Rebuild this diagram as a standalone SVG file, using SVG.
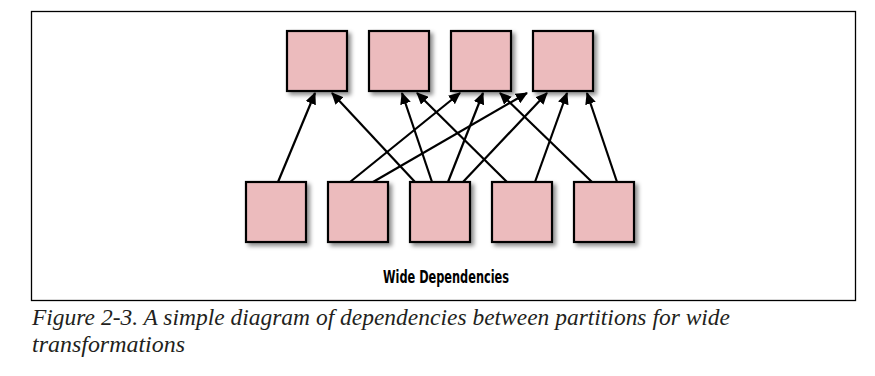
<svg xmlns="http://www.w3.org/2000/svg" width="875" height="376" viewBox="0 0 875 376">
  <style>
    .part { fill: #ecbbbd; stroke: #000; stroke-width: 2.2; filter: url(#shadow); }
    .dep { stroke: #000; stroke-width: 2.2; fill: none; marker-end: url(#arrow); }
    .title { font-family: "Liberation Sans Narrow", "DejaVu Sans Condensed", "Liberation Sans", sans-serif; font-weight: bold; font-size: 18px; fill: #000; }
    .caption { font-family: "Liberation Serif", "Times New Roman", serif; font-style: italic; font-size: 23px; fill: #231f20; }
  </style>
  <defs>
    <filter id="shadow" x="-20%" y="-20%" width="150%" height="150%">
      <feDropShadow dx="3" dy="3" stdDeviation="2" flood-color="#000" flood-opacity="0.45"/>
    </filter>
    <marker id="arrow" viewBox="0 0 12 11" refX="11" refY="5.5" markerWidth="12" markerHeight="11" markerUnits="userSpaceOnUse" orient="auto">
      <path d="M0,0 L12,5.5 L0,11 Z" fill="#000"/>
    </marker>
  </defs>

  <rect x="31.5" y="11.5" width="824" height="289" fill="#fff" stroke="#000" stroke-width="1.3"/>

  <!-- dependency edges: child partition (bottom) to parent partition (top) -->
  <g id="connectors">
    <line class="dep" x1="278" y1="182" x2="315" y2="93"/>
    <line class="dep" x1="415" y1="182" x2="332" y2="93"/>
    <line class="dep" x1="432" y1="182" x2="402" y2="93"/>
    <line class="dep" x1="507" y1="182" x2="417" y2="93"/>
    <line class="dep" x1="350" y1="182" x2="460" y2="93"/>
    <line class="dep" x1="448" y1="182" x2="483" y2="93"/>
    <line class="dep" x1="592" y1="182" x2="500" y2="93"/>
    <line class="dep" x1="373" y1="182" x2="527" y2="93"/>
    <line class="dep" x1="463" y1="182" x2="547" y2="93"/>
    <line class="dep" x1="535" y1="182" x2="567" y2="93"/>
    <line class="dep" x1="617" y1="182" x2="587" y2="93"/>
  </g>

  <!-- parent partitions -->
  <g id="parent1"><rect class="part" x="287" y="31" width="60" height="60"/></g>
  <g id="parent2"><rect class="part" x="369" y="31" width="60" height="60"/></g>
  <g id="parent3"><rect class="part" x="451" y="31" width="60" height="60"/></g>
  <g id="parent4"><rect class="part" x="533" y="31" width="60" height="60"/></g>

  <!-- child partitions -->
  <g id="child1"><rect class="part" x="246" y="182" width="60" height="60"/></g>
  <g id="child2"><rect class="part" x="328" y="182" width="60" height="60"/></g>
  <g id="child3"><rect class="part" x="410" y="182" width="60" height="60"/></g>
  <g id="child4"><rect class="part" x="492" y="182" width="60" height="60"/></g>
  <g id="child5"><rect class="part" x="574" y="182" width="60" height="60"/></g>

  <text class="title" x="383" y="283" textLength="126" lengthAdjust="spacingAndGlyphs">Wide Dependencies</text>

  <text class="caption" x="32" y="325" textLength="698" lengthAdjust="spacingAndGlyphs">Figure 2-3. A simple diagram of dependencies between partitions for wide</text>
  <text class="caption" x="32" y="352" textLength="153" lengthAdjust="spacingAndGlyphs">transformations</text>
</svg>
